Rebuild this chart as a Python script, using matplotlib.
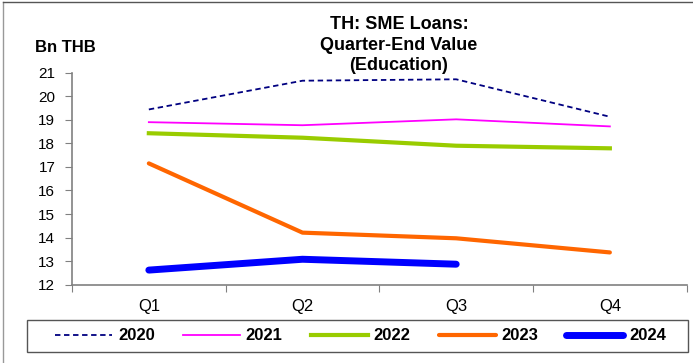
import matplotlib
matplotlib.use("Agg")
import matplotlib.pyplot as plt
from matplotlib.patches import Rectangle
from matplotlib.lines import Line2D

plt.rcParams['font.family'] = ['Liberation Sans', 'DejaVu Sans']

quarters = ["Q1", "Q2", "Q3", "Q4"]
v2020 = [19.44, 20.66, 20.72, 19.13]
v2021 = [18.90, 18.77, 19.02, 18.72]
v2022 = [18.43, 18.24, 17.90, 17.79]
v2023 = [17.15, 14.21, 13.97, 13.37]
v2024 = [12.62, 13.08, 12.87]
y_ticks = [12, 13, 14, 15, 16, 17, 18, 19, 20, 21]

W, H = 693, 363
fig = plt.figure(figsize=(W/100, H/100), dpi=100)
ax = fig.add_axes([72/W, 1-284.7/H, (686.7-72)/W, (284.7-72.7)/H])

x = list(range(len(quarters)))
ax.plot(x, v2020, color='#000080', lw=1.3, ls=(0, (3, 2)), label='2020')
ax.plot(x, v2021, color='#FF00FF', lw=1.3, label='2021')
ax.plot(x, v2022, color='#99CC00', lw=3, label='2022')
ax.plot(x, v2023, color='#FF6600', lw=3, label='2023', solid_capstyle='round')
ax.plot(x[:len(v2024)], v2024, color='#0000FF', lw=5, label='2024', solid_capstyle='round')

ax.set_xlim(-0.5, 3.5)
ax.set_ylim(12, 21)
ax.set_yticks(y_ticks)
ax.set_xticks([-0.5, 0.5, 1.5, 2.5, 3.5])
ax.set_xticklabels([])
ax.set_xticks(x, minor=True)
ax.set_xticklabels(quarters, minor=True)
ax.tick_params(axis='x', which='minor', length=0, pad=10, labelsize=12)
ax.tick_params(axis='x', which='major', length=5, color='#808080', direction='out')
ax.tick_params(axis='y', length=5, color='#808080', labelsize=11, pad=7)
for s in ['top', 'right']:
    ax.spines[s].set_visible(False)
for s in ['left', 'bottom']:
    ax.spines[s].set_color('#808080')
    ax.spines[s].set_linewidth(1.2)

fig.text(399/W, 1-45/H, "TH: SME Loans:\nQuarter-End Value\n(Education)",
         ha='center', va='center', fontsize=13, fontweight='bold', linespacing=1.25)
fig.text(35/W, 1-47/H, "Bn THB", ha='left', va='center', fontsize=12, fontweight='bold')

fs = 12
px = fs * 100 / 72
leg = fig.legend(loc='center left', bbox_to_anchor=(55/W, 1-336/H),
                 ncol=5, frameon=False, prop={'weight': 'bold', 'size': fs},
                 handlelength=57/px, handletextpad=6/px, columnspacing=28/px,
                 borderaxespad=0, borderpad=0)

fig.patches.append(Rectangle((27/W, 1-351.7/H), (688-27)/W, (351.7-320)/H,
                             transform=fig.transFigure, fill=False,
                             edgecolor='#555555', lw=1.0))
fig.lines.append(Line2D([3/W, 3/W], [0, 1-1.5/H], transform=fig.transFigure,
                        color='#999999', lw=1.0))
fig.lines.append(Line2D([3/W, 1], [1-1.5/H, 1-1.5/H], transform=fig.transFigure,
                        color='#555555', lw=1.0))

fig.savefig("out.png", dpi=100)
